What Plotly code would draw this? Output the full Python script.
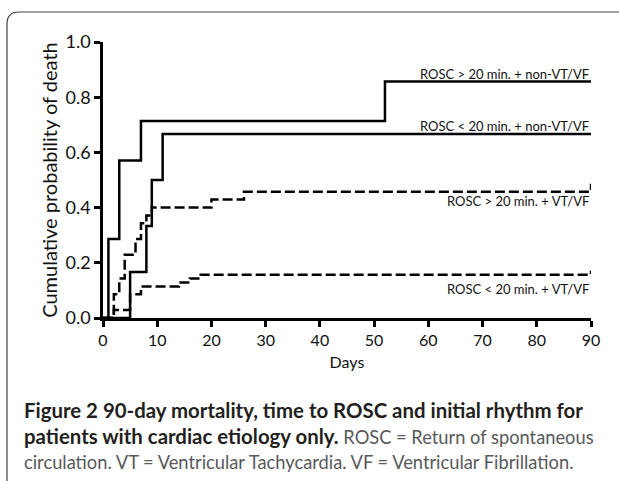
import plotly.graph_objects as go

# Kaplan-Meier style step data (days, cumulative probability of death)
days_gt20_nonvf = [0, 1, 3, 7, 52, 90]
prob_gt20_nonvf = [0, 0.286, 0.571, 0.714, 0.857, 0.857]

days_lt20_nonvf = [0, 5, 8, 9, 11, 90]
prob_lt20_nonvf = [0, 0.167, 0.333, 0.5, 0.667, 0.667]

days_gt20_vf = [0, 2, 3, 4, 6, 7, 8, 9, 20, 26, 90, 90]
prob_gt20_vf = [0, 0.086, 0.143, 0.229, 0.286, 0.343, 0.371, 0.4, 0.429, 0.457, 0.457, 0.486]

days_lt20_vf = [0, 2, 5, 7, 14, 16, 18, 90, 90]
prob_lt20_vf = [0, 0.029, 0.086, 0.114, 0.129, 0.143, 0.157, 0.157, 0.171]

x_ticks = [0, 10, 20, 30, 40, 50, 60, 70, 80, 90]
y_ticks = [0.0, 0.2, 0.4, 0.6, 0.8, 1.0]
y_tick_labels = ["0.0", "0.2", "0.4", "0.6", "0.8", "1.0"]

labels = ["ROSC > 20 min. + non-VT/VF", "ROSC < 20 min. + non-VT/VF",
          "ROSC > 20 min. + VT/VF", "ROSC < 20 min. + VT/VF"]
label_y = [0.885, 0.695, 0.425, 0.105]

W, H = 619, 481
L, R, T, B = 103, 28, 42, 163
PW, PH = W - L - R, H - T - B


def px(x):
    return (x - L) / PW


def py(y):
    return (H - B - y) / PH


fig = go.Figure()
series = [
    (days_gt20_nonvf, prob_gt20_nonvf, "solid"),
    (days_lt20_nonvf, prob_lt20_nonvf, "solid"),
    (days_gt20_vf, prob_gt20_vf, "10px,4px"),
    (days_lt20_vf, prob_lt20_vf, "10px,4px"),
]
for (d, p, dash), name in zip(series, labels):
    fig.add_trace(go.Scatter(
        x=d, y=p, mode="lines", name=name,
        line=dict(color="black", width=2.5, shape="hv", dash=dash),
        showlegend=False,
    ))

for text, yy in zip(labels, label_y):
    fig.add_annotation(x=90, y=yy, xref="x", yref="y", text=text,
                       showarrow=False, xanchor="right", yanchor="middle",
                       font=dict(family="Lato", size=13, color="#111"))

# rounded frame around the figure
r = 12
fig.add_shape(
    type="path", xref="paper", yref="paper",
    path=(f"M {px(7)},{py(481)} L {px(7)},{py(12 + r)} "
          f"Q {px(7)},{py(12)} {px(7 + r)},{py(12)} L {px(619)},{py(12)}"),
    line=dict(color="#444", width=1.2),
)

dark = "#231f20"
gray = "#58595b"
bold = f"color:{dark};font-size:20.4px"
norm = f"color:{gray};font-size:18.3px"
caption = [
    f"<span style='{bold}'><b>Figure 2 90-day mortality, time to ROSC and initial rhythm for</b></span>",
    f"<span style='{bold}'><b>patients with cardiac etiology only.</b></span>"
    f"<span style='{norm}'> ROSC = Return of spontaneous</span>",
    f"<span style='{norm}'>circulation. VT = Ventricular Tachycardia. VF = Ventricular Fibrillation.</span>",
]
for i, line in enumerate(caption):
    fig.add_annotation(x=px(22), y=py(410 + 26 * i), xref="paper", yref="paper",
                       text=line, showarrow=False, xanchor="left", yanchor="middle",
                       font=dict(family="Lato", size=19))

fig.update_layout(
    width=W, height=H,
    margin=dict(l=L, r=R, t=T, b=B),
    paper_bgcolor="white", plot_bgcolor="white",
    font=dict(family="Lato", color="#111"),
    xaxis=dict(
        range=[0, 90], tickvals=x_ticks, showgrid=False, zeroline=False,
        showline=True, linecolor="black", linewidth=2.5,
        ticks="outside", ticklen=6, tickwidth=2.5, tickcolor="black",
        tickfont=dict(size=16),
        title=dict(text="Days", font=dict(size=16), standoff=9),
    ),
    yaxis=dict(
        range=[0, 1], tickvals=y_ticks, ticktext=y_tick_labels,
        showgrid=False, zeroline=False,
        showline=True, linecolor="black", linewidth=2.5,
        ticks="outside", ticklen=6, tickwidth=2.5, tickcolor="black",
        tickfont=dict(size=18),
        title=dict(text="Cumulative probability of death", font=dict(size=20), standoff=3),
    ),
)

fig.write_html("out.html", config={"displayModeBar": False},
               post_script="document.body.style.margin='0px';")
